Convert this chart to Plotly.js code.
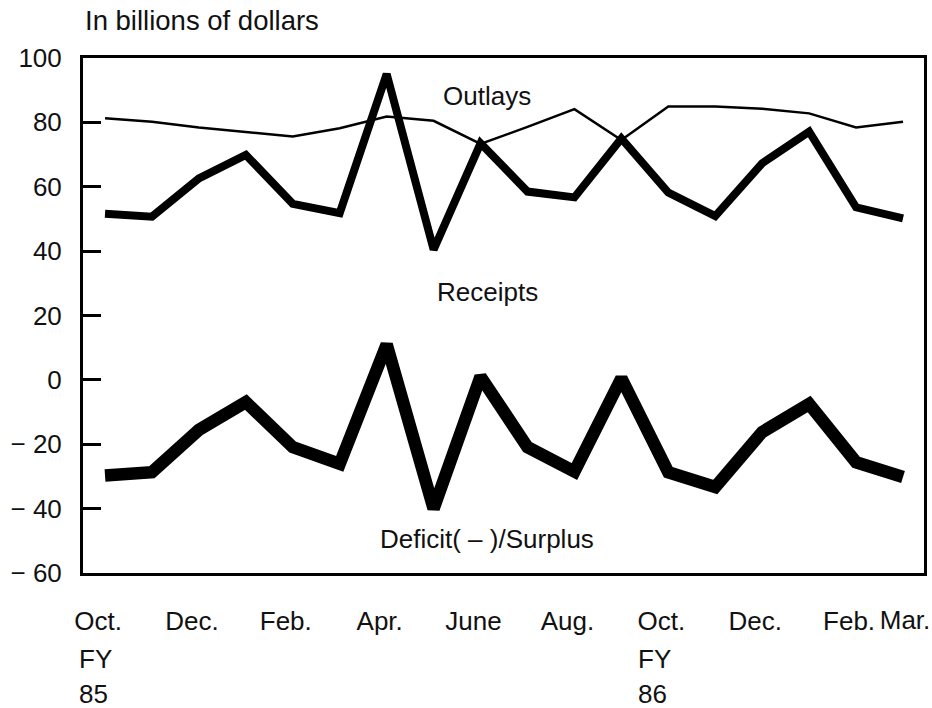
<!DOCTYPE html>
<html>
<head>
<meta charset="utf-8">
<script src="https://cdn.plot.ly/plotly-3.0.1.min.js"></script>
<style>
  html, body { margin: 0; padding: 0; background: #fff; }
  #chart { width: 932px; height: 708px; }
</style>
</head>
<body>
<div id="chart"></div>
<script>
// Months Oct FY85 .. Mar FY86 (index positions 0..17)
const months = ["Oct.", "Nov.", "Dec.", "Jan.", "Feb.", "Mar.", "Apr.", "May", "June", "July", "Aug.", "Sep.",
                "Oct.", "Nov.", "Dec.", "Jan.", "Feb.", "Mar."];
const monthIndex = months.map((m, i) => i);

const outlays  = [81.3, 80.2, 78.4, 77.1, 75.6, 78.2, 81.8, 80.5, 73.3, 78.6, 84.1, 74.5,
                  84.9, 84.9, 84.2, 82.8, 78.4, 80.2];
const receipts = [51.6, 50.7, 62.6, 69.9, 54.7, 51.8, 95.0, 40.5, 73.5, 58.5, 56.7, 75.0,
                  58.2, 50.9, 67.3, 77.1, 53.6, 50.2];
const deficit  = [-29.7, -28.7, -15.5, -6.9, -20.9, -26.1, 11.0, -40.0, 1.0, -20.9, -28.5, 0.5,
                  -28.7, -33.3, -16.2, -7.5, -25.6, -30.2];

const xTickVals = [0, 2, 4, 6, 8, 10, 12, 14, 16];
const xTickText = ["Oct.", "Dec.", "Feb.", "Apr.", "June", "Aug.", "Oct.", "Dec.", "Feb."];
const lastTickVal = [17];
const lastTickText = ["Mar."];
const yTickVals = [-60, -40, -20, 0, 20, 40, 60, 80, 100];
const yTickText = ["\u2212 60", "\u2212 40", "\u2212 20", "0", "20", "40", "60", "80", "100"];

const FONT = "Liberation Sans, Arial, Helvetica, sans-serif";
const X_RANGE = [-0.469, 17.447];

const traces = [
  { x: monthIndex, y: outlays, xaxis: "x2", mode: "lines", line: { color: "#000", width: 2.5 }, hoverinfo: "skip" },
  { x: monthIndex, y: receipts, mode: "lines", line: { color: "#000", width: 8 }, hoverinfo: "skip" },
  { x: monthIndex, y: deficit, mode: "lines", line: { color: "#000", width: 12.5 }, hoverinfo: "skip" }
];

const tickFont = { family: FONT, size: 26, color: "#111" };

const layout = {
  width: 932, height: 708,
  margin: { l: 83, r: 8, t: 58, b: 135 },
  paper_bgcolor: "#fff", plot_bgcolor: "#fff",
  showlegend: false,
  font: { family: FONT, size: 26, color: "#111" },
  xaxis: {
    range: X_RANGE,
    showgrid: false, zeroline: false,
    showline: true, linewidth: 3, linecolor: "#000", mirror: true,
    ticks: "",
    tickvals: xTickVals, ticktext: xTickText,
    tickangle: 0,
    tickfont: tickFont,
    ticklabelstandoff: 23,
    ticklabelshift: -7
  },
  xaxis2: {
    range: X_RANGE,
    overlaying: "x", side: "bottom", anchor: "y",
    showgrid: false, zeroline: false, showline: false,
    ticks: "",
    tickvals: lastTickVal, ticktext: lastTickText,
    tickangle: 0,
    tickfont: tickFont,
    ticklabelstandoff: 29,
    ticklabelshift: 2
  },
  yaxis: {
    range: [-60, 100],
    showgrid: false, zeroline: false,
    showline: true, linewidth: 3, linecolor: "#000", mirror: true,
    ticks: "inside", ticklen: 18, tickwidth: 3, tickcolor: "#000",
    tickvals: yTickVals, ticktext: yTickText,
    tickfont: tickFont,
    ticklabelstandoff: 13
  },
  annotations: [
    { text: "In billions of dollars", xref: "paper", yref: "paper", x: 0, y: 1, xanchor: "left", yanchor: "bottom",
      yshift: 20, showarrow: false, font: { family: FONT, size: 27.5, color: "#111" } },
    { text: "Outlays", xref: "x", yref: "y", x: 8.14, y: 88.2, xanchor: "center", yanchor: "middle",
      showarrow: false, font: { family: FONT, size: 26, color: "#111" } },
    { text: "Receipts", xref: "x", yref: "y", x: 8.14, y: 27.3, xanchor: "center", yanchor: "middle",
      showarrow: false, font: { family: FONT, size: 26, color: "#111" } },
    { text: "Deficit( \u2013 )/Surplus", xref: "x", yref: "y", x: 8.13, y: -49.5, xanchor: "center", yanchor: "middle",
      showarrow: false, font: { family: FONT, size: 26, color: "#111" } },
    { text: "FY", xref: "x", yref: "paper", x: 0, y: 0, xanchor: "left", yanchor: "middle", xshift: -28, yshift: -86,
      showarrow: false, font: { family: FONT, size: 26, color: "#111" } },
    { text: "85", xref: "x", yref: "paper", x: 0, y: 0, xanchor: "left", yanchor: "middle", xshift: -28, yshift: -121,
      showarrow: false, font: { family: FONT, size: 26, color: "#111" } },
    { text: "FY", xref: "x", yref: "paper", x: 12, y: 0, xanchor: "left", yanchor: "middle", xshift: -32, yshift: -86,
      showarrow: false, font: { family: FONT, size: 26, color: "#111" } },
    { text: "86", xref: "x", yref: "paper", x: 12, y: 0, xanchor: "left", yanchor: "middle", xshift: -32, yshift: -121,
      showarrow: false, font: { family: FONT, size: 26, color: "#111" } }
  ]
};

Plotly.newPlot("chart", traces, layout, { staticPlot: true, displayModeBar: false });
</script>
</body>
</html>
